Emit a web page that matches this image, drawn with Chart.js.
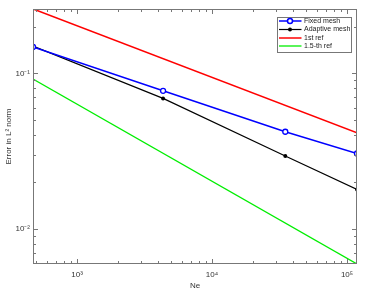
<!DOCTYPE html>
<html>
<head>
<meta charset="utf-8">
<script src="https://cdn.jsdelivr.net/npm/chart.js@4/dist/chart.umd.min.js"></script>
<style>
  html, body { margin: 0; padding: 0; background: #fff; }
  #wrap { width: 366px; height: 291px; }
</style>
</head>
<body>
<div id="wrap"><canvas id="errChart"></canvas></div>
<script>
// mesh sizes (Ne) and errors
const ne = [472, 4340, 34900, 118600];
const fixedErr = [0.148, 0.0772, 0.0421, 0.0305];
const adaptiveErr = [0.150, 0.069, 0.0294, 0.0179];
// reference slopes, just the two end points
const refNe = [472, 118600];
const ref1 = [0.260, 0.0415];
const ref15 = [0.0919, 0.00593];

const xMin = 472, xMax = 118600;
const yMin = 0.00593, yMax = 0.2596;

const supers = { '-': '⁻', '0': '⁰', '1': '¹', '2': '²', '3': '³', '4': '⁴', '5': '⁵', '6': '⁶', '7': '⁷', '8': '⁸', '9': '⁹' };
function powLabel(v) {
  const e = Math.log10(v);
  if (Math.abs(e - Math.round(e)) > 1e-6) return '';
  return '10' + String(Math.round(e)).split('').map(c => supers[c]).join('');
}

// 1..9 x 10^k ticks inside the range
function logTicks(min, max) {
  const out = [];
  for (let k = Math.floor(Math.log10(min)); k <= Math.ceil(Math.log10(max)); k++) {
    for (let m = 1; m < 10; m++) {
      const v = m * Math.pow(10, k);
      if (v >= min * 0.999 && v <= max * 1.001) out.push({ value: v, major: m === 1 });
    }
  }
  return out;
}

const pts = (xs, ys) => xs.map((x, i) => ({ x: x, y: ys[i] }));

const series = [
  { label: 'Fixed mesh', color: '#0000ff', width: 1.5, marker: 'open' },
  { label: 'Adaptive mesh', color: '#000000', width: 1.2, marker: 'dot' },
  { label: '1st ref', color: '#ff0000', width: 1.5, marker: null },
  { label: '1.5-th ref', color: '#00ee00', width: 1.3, marker: null }
];

// box, inward ticks on all sides, legend
const frame = {
  id: 'frame',
  afterDatasetsDraw(chart) {
    const c = chart.ctx, a = chart.chartArea;
    const xs = chart.scales.x, ys = chart.scales.y;
    c.save();
    c.strokeStyle = '#777';
    c.lineWidth = 1;
    c.strokeRect(a.left + 0.5, a.top + 0.5, a.right - a.left - 1, a.bottom - a.top - 1);
    c.beginPath();
    logTicks(xMin, xMax).forEach(t => {
      const px = Math.round(xs.getPixelForValue(t.value)) + 0.5;
      const len = t.major ? 5 : 3;
      c.moveTo(px, a.bottom); c.lineTo(px, a.bottom - len);
      c.moveTo(px, a.top); c.lineTo(px, a.top + len);
    });
    logTicks(yMin, yMax).forEach(t => {
      const py = Math.round(ys.getPixelForValue(t.value)) + 0.5;
      const len = t.major ? 5 : 3;
      c.moveTo(a.left, py); c.lineTo(a.left + len, py);
      c.moveTo(a.right, py); c.lineTo(a.right - len, py);
    });
    c.stroke();

    // legend
    const lx = 277, ly = 17, lw = 74, lh = 35;
    c.fillStyle = '#fff';
    c.fillRect(lx, ly, lw, lh);
    c.strokeStyle = '#777';
    c.strokeRect(lx + 0.5, ly + 0.5, lw, lh);
    c.font = '7px "Liberation Sans", Arial, sans-serif';
    c.textBaseline = 'middle';
    const rows = [21, 29.5, 38, 46];
    series.forEach((s, i) => {
      const y = rows[i];
      c.strokeStyle = s.color;
      c.lineWidth = s.width;
      c.beginPath(); c.moveTo(279, y); c.lineTo(301.5, y); c.stroke();
      if (s.marker === 'open') {
        c.fillStyle = '#fff';
        c.beginPath(); c.arc(290, y, 2.5, 0, Math.PI * 2); c.fill(); c.stroke();
      } else if (s.marker === 'dot') {
        c.fillStyle = s.color;
        c.beginPath(); c.arc(290, y, 2, 0, Math.PI * 2); c.fill();
      }
      c.fillStyle = '#222';
      c.fillText(s.label, 304, y);
    });
    c.restore();
  }
};

const ctx = document.getElementById('errChart').getContext('2d');
const chart = new Chart(ctx, {
  type: 'line',
  data: {
    datasets: [
      { label: series[0].label, data: pts(ne, fixedErr), borderColor: series[0].color, borderWidth: 1.5,
        pointStyle: 'circle', pointRadius: 2.5, pointBackgroundColor: '#fff', pointBorderColor: '#0000ff', pointBorderWidth: 1.3 },
      { label: series[1].label, data: pts(ne, adaptiveErr), borderColor: '#000', borderWidth: 1.2,
        pointStyle: 'circle', pointRadius: 2, pointBackgroundColor: '#000', pointBorderColor: '#000', pointBorderWidth: 0 },
      { label: series[2].label, data: pts(refNe, ref1), borderColor: series[2].color, borderWidth: 1.5, pointRadius: 0 },
      { label: series[3].label, data: pts(refNe, ref15), borderColor: series[3].color, borderWidth: 1.3, pointRadius: 0 }
    ]
  },
  options: {
    responsive: true,
    maintainAspectRatio: false,
    animation: false,
    layout: { padding: { left: 0, top: 9, right: 9, bottom: 0 } },
    elements: { line: { tension: 0, fill: false } },
    plugins: { legend: { display: false }, tooltip: { enabled: false } },
    scales: {
      x: {
        type: 'logarithmic',
        min: xMin, max: xMax,
        grid: { display: false, drawTicks: false }, border: { display: false },
        afterBuildTicks: s => { s.ticks = logTicks(xMin, xMax); },
        afterFit: s => { s.height = 27; },
        ticks: { autoSkip: false, maxRotation: 0, padding: 6, color: '#333',
          font: { family: '"Liberation Sans", Arial, sans-serif', size: 8 },
          callback: v => powLabel(v) },
        title: { display: true, text: 'Ne', color: '#333', align: 'center', padding: 0,
          font: { family: '"Liberation Sans", Arial, sans-serif', size: 8 } }
      },
      y: {
        type: 'logarithmic',
        min: yMin, max: yMax,
        grid: { display: false, drawTicks: false }, border: { display: false },
        afterBuildTicks: s => { s.ticks = logTicks(yMin, yMax); },
        afterFit: s => { s.width = 33; },
        ticks: { autoSkip: false, padding: 3, color: '#333',
          font: { family: '"Liberation Sans", Arial, sans-serif', size: 8 },
          callback: v => powLabel(v) },
        title: { display: true, text: 'Error in L² norm', color: '#333', padding: { top: 4, bottom: 0 },
          font: { family: '"Liberation Sans", Arial, sans-serif', size: 8 } }
      }
    }
  },
  plugins: [frame]
});
</script>
</body>
</html>
